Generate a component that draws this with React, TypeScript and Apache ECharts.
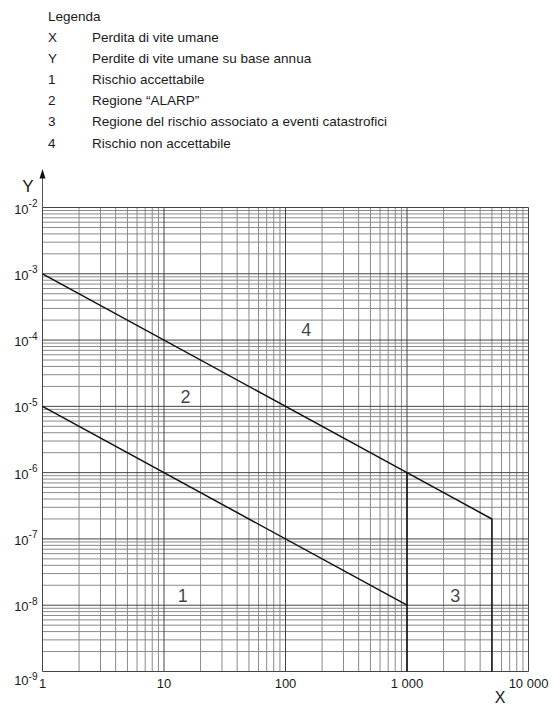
import React, { useEffect, useRef } from 'react';
import * as echarts from 'echarts';

const legendTitle = 'Legenda';
const legendCodes = ['X', 'Y', '1', '2', '3', '4'];
const legendTexts = [
  'Perdita di vite umane',
  'Perdite di vite umane su base annua',
  'Rischio accettabile',
  'Regione “ALARP”',
  'Regione del rischio associato a eventi catastrofici',
  'Rischio non accettabile',
];

const xTickLabels = ['1', '10', '100', '1 000', '10 000'];
const xMajor = [1, 10, 100, 1000, 10000];
const yMajor = [1e-9, 1e-8, 1e-7, 1e-6, 1e-5, 1e-4, 1e-3, 1e-2];
const minorSteps = [2, 3, 4, 5, 6, 7, 8, 9];

// boundary lines
const upperX = [1, 1000, 5000, 5000];
const upperY = [1e-3, 1e-6, 2e-7, 1e-9];
const lowerX = [1, 1000];
const lowerY = [1e-5, 1e-8];
const catX = [1000, 1000];
const catY = [1e-6, 1e-9];

// region numbers
const regionNames = ['1', '2', '3', '4'];
const regionX = [14.3, 15, 2500, 148];
const regionY = [1.36e-8, 1.4e-5, 1.36e-8, 1.4e-4];

const xMin = 1, xMax = 10000, yMin = 1e-9, yMax = 1e-2;
const FONT = '"Liberation Sans", Arial, Helvetica, sans-serif';

const GRID = { left: 42.5, right: 25.5, top: 207.5, bottom: 34.5 };

export default function App() {
  const ref = useRef<HTMLDivElement>(null);
  useEffect(() => {
    if (!ref.current) return;
    const chart = echarts.init(ref.current, undefined, { renderer: 'svg' });

    // gridline data: [x, y, orientation(0=vertical,1=horizontal), major]
    const gridData: number[][] = [];
    xMajor.forEach((m, i) => {
      gridData.push([m, yMin, 0, 1]);
      if (i < xMajor.length - 1) minorSteps.forEach((k) => gridData.push([m * k, yMin, 0, 0]));
    });
    yMajor.forEach((m, i) => {
      gridData.push([xMin, m, 1, 1]);
      if (i < yMajor.length - 1) minorSteps.forEach((k) => gridData.push([xMin, m * k, 1, 0]));
    });

    const lineStyle = { color: '#111', width: 1.5 };
    const legendFont = `13.5px ${FONT}`;
    const legendGraphics: any[] = [
      { type: 'text', x: 48, y: 16, style: { text: legendTitle, font: legendFont, fill: '#1a1a1a', verticalAlign: 'middle' } },
    ];
    legendCodes.forEach((c, i) => {
      const y = 37 + i * 21.2;
      legendGraphics.push({ type: 'text', x: 48, y, style: { text: c, font: legendFont, fill: '#1a1a1a', verticalAlign: 'middle' } });
      legendGraphics.push({ type: 'text', x: 92, y, style: { text: legendTexts[i], font: legendFont, fill: '#1a1a1a', verticalAlign: 'middle' } });
    });

    chart.setOption({
      animation: false,
      backgroundColor: '#ffffff',
      grid: { ...GRID, containLabel: false },
      xAxis: {
        type: 'log',
        logBase: 10,
        min: xMin,
        max: xMax,
        axisLine: { show: false },
        axisTick: { show: false },
        splitLine: { show: false },
        axisLabel: {
          margin: 5,
          fontSize: 13,
          fontFamily: FONT,
          color: '#1a1a1a',
          formatter: (v: number) => xTickLabels[Math.round(Math.log10(v))] ?? '',
        },
      },
      yAxis: {
        type: 'log',
        logBase: 10,
        min: yMin,
        max: yMax,
        axisLine: { show: false },
        axisTick: { show: false },
        splitLine: { show: false },
        axisLabel: {
          margin: 5,
          fontFamily: FONT,
          color: '#1a1a1a',
          formatter: (v: number) => {
            const e = Math.round(Math.log10(v));
            return e === -9 ? `{bl|10}{sl|${e}}` : `{b|10}{s|${e}}`;
          },
          rich: {
            b: { fontSize: 13, fontFamily: FONT, color: '#1a1a1a', padding: [3, 0, 0, 0] },
            s: { fontSize: 10, fontFamily: FONT, color: '#1a1a1a', padding: [0, 0, 8, 0] },
            bl: { fontSize: 13, fontFamily: FONT, color: '#1a1a1a', padding: [18, 0, 0, 0] },
            sl: { fontSize: 10, fontFamily: FONT, color: '#1a1a1a', padding: [10, 0, 0, 0] },
          },
        },
      },
      graphic: [
        ...legendGraphics,
        { type: 'line', shape: { x1: 42.5, y1: 207.5, x2: 42.5, y2: 176 }, style: { stroke: '#555', lineWidth: 1 } },
        { type: 'polygon', shape: { points: [[42.5, 169], [39.5, 178.5], [45.5, 178.5]] }, style: { fill: '#111' } },
        { type: 'text', x: 28, y: 186, style: { text: 'Y', font: `17px ${FONT}`, fill: '#1a1a1a', align: 'center', verticalAlign: 'middle' } },
        { type: 'text', x: 500, y: 697, style: { text: 'X', font: `16px ${FONT}`, fill: '#1a1a1a', align: 'center', verticalAlign: 'middle' } },
      ],
      series: [
        {
          type: 'custom',
          z: 1,
          silent: true,
          data: gridData,
          renderItem: (params: any, api: any) => {
            const orient = api.value(2);
            const major = api.value(3);
            let p1, p2;
            if (orient === 0) {
              const v = api.value(0);
              p1 = api.coord([v, yMin]);
              p2 = api.coord([v, yMax]);
            } else {
              const v = api.value(1);
              p1 = api.coord([xMin, v]);
              p2 = api.coord([xMax, v]);
            }
            return {
              type: 'line',
              z2: major ? 2 : 1,
              shape: { x1: p1[0], y1: p1[1], x2: p2[0], y2: p2[1] },
              style: { stroke: major ? '#444444' : '#8a8a8a', lineWidth: 1 },
            };
          },
        },
        {
          type: 'line',
          z: 5,
          symbol: 'none',
          lineStyle,
          data: upperX.map((x, i) => [x, upperY[i]]),
        },
        {
          type: 'line',
          z: 5,
          symbol: 'none',
          lineStyle,
          data: lowerX.map((x, i) => [x, lowerY[i]]),
        },
        {
          type: 'line',
          z: 5,
          symbol: 'none',
          lineStyle,
          data: catX.map((x, i) => [x, catY[i]]),
        },
        {
          type: 'scatter',
          z: 6,
          symbolSize: 1,
          itemStyle: { color: 'rgba(0,0,0,0)' },
          label: {
            show: true,
            position: 'inside',
            fontSize: 18,
            fontFamily: FONT,
            color: '#111',
            formatter: (p: any) => regionNames[p.dataIndex],
          },
          data: regionX.map((x, i) => [x, regionY[i]]),
        },
      ],
    });
    return () => chart.dispose();
  }, []);
  return (
    <div
      ref={ref}
      style={{ position: 'fixed', left: 0, top: 0, width: 554, height: 706, background: '#fff' }}
    />
  );
}
